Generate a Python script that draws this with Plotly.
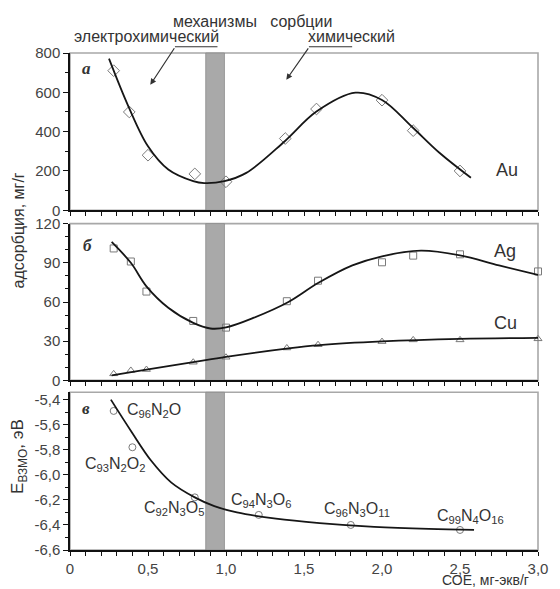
import plotly.graph_objects as go

# ---------------- data ----------------
au_x = [0.28, 0.38, 0.5, 0.8, 1.0, 1.38, 1.58, 2.0, 2.2, 2.5]
au_y = [710, 500, 280, 185, 145, 365, 515, 560, 405, 200]
au_curve_x = [0.25, 0.375, 0.5, 0.63, 0.79, 0.86, 0.99, 1.13, 1.375, 1.58, 1.83, 2.0, 2.19, 2.37, 2.57]
au_curve_y = [771, 527, 325, 207, 148, 138, 148, 190, 350, 502, 598, 561, 426, 291, 165]

metal_x = [0.28, 0.39, 0.49, 0.79, 1.0, 1.39, 1.59, 2.0, 2.2, 2.5, 3.0]
ag_y = [101, 91, 68, 45.5, 40.4, 60.6, 76.3, 90.4, 95.5, 96.5, 83.4]
cu_y = [5, 7.6, 8.3, 13.9, 17.7, 24.8, 27.3, 29.7, 31, 31, 31.8]
ag_curve_x = [0.267, 0.39, 0.49, 0.63, 0.79, 0.9, 1.0, 1.18, 1.4, 1.59, 1.81, 2.0, 2.25, 2.5, 2.75, 3.0]
ag_curve_y = [106, 90, 72, 55.6, 44, 39.7, 40.5, 48, 60, 74.5, 88, 95, 99.3, 95.7, 88, 80.7]
cu_curve_x = [0.267, 0.5, 0.8, 1.0, 1.4, 1.6, 2.0, 2.5, 3.0]
cu_curve_y = [3.8, 8.5, 14.2, 18, 24.5, 27, 29.8, 31.7, 32.5]

e_x = [0.28, 0.4, 0.8, 1.21, 1.8, 2.5]
e_y = [-5.49, -5.78, -6.18, -6.32, -6.40, -6.44]
e_curve_x = [0.262, 0.396, 0.522, 0.648, 0.80, 0.925, 1.07, 1.32, 1.6, 1.95, 2.3, 2.59]
e_curve_y = [-5.40, -5.66, -5.89, -6.06, -6.18, -6.25, -6.30, -6.35, -6.385, -6.415, -6.432, -6.44]

formula_labels = ["C<sub>96</sub>N<sub>2</sub>O", "C<sub>93</sub>N<sub>2</sub>O<sub>2</sub>",
                  "C<sub>92</sub>N<sub>3</sub>O<sub>5</sub>", "C<sub>94</sub>N<sub>3</sub>O<sub>6</sub>",
                  "C<sub>96</sub>N<sub>3</sub>O<sub>11</sub>", "C<sub>99</sub>N<sub>4</sub>O<sub>16</sub>"]
formula_x = [0.352, 0.082, 0.459, 1.019, 1.616, 2.34]
formula_y = [-5.49, -5.915, -6.27, -6.205, -6.28, -6.33]

band_x = [0.87, 0.99]

x_tickvals = [0, 0.5, 1.0, 1.5, 2.0, 2.5, 3.0]
x_ticktext = ["0", "0,5", "1,0", "1,5", "2,0", "2,5", "3,0"]
y1_tickvals = [0, 200, 400, 600, 800]
y2_tickvals = [0, 30, 60, 90, 120]
y3_tickvals = [-6.6, -6.4, -6.2, -6.0, -5.8, -5.6, -5.4]
y3_ticktext = ["-6,6", "-6,4", "-6,2", "-6,0", "-5,8", "-5,6", "-5,4"]

# ---------------- figure ----------------
FONT = "Liberation Sans, Arial, sans-serif"
LINE = dict(color="#161616", width=1.8, shape="spline", smoothing=1.0)
MK = "#7a7a7a"

fig = go.Figure()

def add_curve(x, y, xa, ya):
    fig.add_trace(go.Scatter(x=x, y=y, mode="lines", line=LINE, xaxis=xa, yaxis=ya,
                             hoverinfo="skip", showlegend=False, cliponaxis=False))

def add_pts(x, y, xa, ya, symbol, size):
    fig.add_trace(go.Scatter(x=x, y=y, mode="markers", xaxis=xa, yaxis=ya, showlegend=False,
                             cliponaxis=False,
                             marker=dict(symbol=symbol, size=size, color=MK,
                                         line=dict(color=MK, width=1))))

add_pts(au_x, au_y, "x", "y", "diamond-open", 9)
add_curve(au_curve_x, au_curve_y, "x", "y")

add_pts(metal_x, ag_y, "x2", "y2", "square-open", 7)
add_pts(metal_x, cu_y, "x2", "y2", "triangle-up-open", 7)
add_curve(ag_curve_x, ag_curve_y, "x2", "y2")
add_curve(cu_curve_x, cu_curve_y, "x2", "y2")

add_pts(e_x, e_y, "x3", "y3", "circle-open", 7)
add_curve(e_curve_x, e_curve_y, "x3", "y3")

tickfont = dict(family=FONT, size=15, color="#444")

def xaxis(anchor, labels):
    return dict(anchor=anchor, domain=[0, 1], range=[0, 3], showgrid=False, zeroline=False,
                showline=True, linecolor="#111", linewidth=1.5,
                ticks="outside", ticklen=4, tickwidth=1, tickcolor="#111",
                tickmode="array", tickvals=x_tickvals, ticktext=x_ticktext,
                showticklabels=labels, tickfont=tickfont,
                minor=dict(dtick=0.1, tick0=0, ticks="outside", ticklen=4, tickwidth=1,
                           tickcolor="#111", showgrid=False))

def yaxis(anchor, domain, rng, tv, tt, minor_dtick):
    d = dict(anchor=anchor, domain=domain, range=rng, showgrid=False, zeroline=False,
             showline=True, linecolor="#111", linewidth=1.5,
             ticks="outside", ticklen=5, tickwidth=1, tickcolor="#111",
             tickmode="array", tickvals=tv, tickfont=tickfont,
             minor=dict(dtick=minor_dtick, ticks="outside", ticklen=3, tickwidth=1,
                        tickcolor="#111", showgrid=False))
    if tt is not None:
        d["ticktext"] = tt
    return d

fig.update_layout(
    width=560, height=589,
    margin=dict(l=70, r=14, t=53, b=35),
    paper_bgcolor="white", plot_bgcolor="white",
    font=dict(family=FONT, color="#333"),
    showlegend=False,
    xaxis=xaxis("y", False),
    xaxis2=xaxis("y2", False),
    xaxis3=xaxis("y3", True),
    yaxis=yaxis("x", [0.6836, 1.0], [0, 800], y1_tickvals, None, 100),
    yaxis2=yaxis("x2", [0.3413, 0.6567], [0, 120], y2_tickvals, None, 10),
    yaxis3=yaxis("x3", [0.0, 0.3174], [-6.6, -5.341], y3_tickvals, y3_ticktext, 0.1),
)

shapes = []
for xr, yr in [("x", "y"), ("x2", "y2"), ("x3", "y3")]:
    # grey frame (top/right visible)
    shapes.append(dict(type="rect", xref=f"{xr} domain", yref=f"{yr} domain",
                       x0=0, x1=1, y0=0, y1=1, line=dict(color="#a8a8a8", width=1.6),
                       layer="below"))
    # shaded band
    shapes.append(dict(type="rect", xref=xr, yref=f"{yr} domain",
                       x0=band_x[0], x1=band_x[1], y0=0, y1=1,
                       fillcolor="#a9a9a9", line=dict(color="#8c8c8c", width=0.8),
                       layer="below"))
# underlines for the mechanism captions
shapes.append(dict(type="line", xref="paper", yref="paper", x0=0.2242, x1=0.3151,
                   y0=1.0126, y1=1.0126, line=dict(color="#333", width=1.2)))
shapes.append(dict(type="line", xref="paper", yref="paper", x0=0.5105, x1=0.6029,
                   y0=1.0126, y1=1.0126, line=dict(color="#333", width=1.2)))
fig.update_layout(shapes=shapes)

ann = []
def txt(text, x, y, xref="paper", yref="paper", size=16, xanchor="center", yanchor="middle",
        angle=0, **kw):
    ann.append(dict(text=text, x=x, y=y, xref=xref, yref=yref, showarrow=False,
                    xanchor=xanchor, yanchor=yanchor, textangle=angle,
                    font=dict(family=kw.get("family", FONT), size=size, color=kw.get("color", "#333"))))

txt("механизмы\u00a0\u00a0 сорбции", 0.3908, 1.0625, size=16)
txt("электрохимический", 0.1639, 1.0325, size=16)
txt("химический", 0.6008, 1.0325, size=16)

for tip_x, tip_y, ax, ay in [(0.1716, 0.9361, 25, -38), (0.4622, 0.9461, 23, -33)]:
    ann.append(dict(text="", x=tip_x, y=tip_y, xref="paper", yref="paper", showarrow=True,
                    ax=ax, ay=ay, arrowhead=2, arrowsize=1, arrowwidth=1.2, arrowcolor="#333"))

txt("Au", 2.80, 206, xref="x", yref="y", size=18)
txt("Ag", 2.79, 98.7, xref="x2", yref="y2", size=18)
txt("Cu", 2.79, 44, xref="x2", yref="y2", size=18)

serif = "Liberation Serif, Times New Roman, serif"
txt("<b><i>а</i></b>", 0.0347, 0.9695, size=17, family=serif)
txt("<b><i>б</i></b>", 0.0378, 0.6134, size=17, family=serif)
txt("<b><i>в</i></b>", 0.0336, 0.284, size=17, family=serif)

for lab, fx, fy in zip(formula_labels, formula_x, formula_y):
    txt(lab, fx, fy, xref="x3", yref="y3", size=16, xanchor="left")

txt("адсорбция, мг/г", -0.1092, 0.6427, size=16, angle=-90)
txt("E<sub>ВЗМО</sub>, эВ", -0.1086, 0.1876, size=17, angle=-90)
txt("СОЕ, мг-экв/г", 0.985, -0.061, size=14, xanchor="right")

fig.update_layout(annotations=ann)

fig.write_html("out.html")
